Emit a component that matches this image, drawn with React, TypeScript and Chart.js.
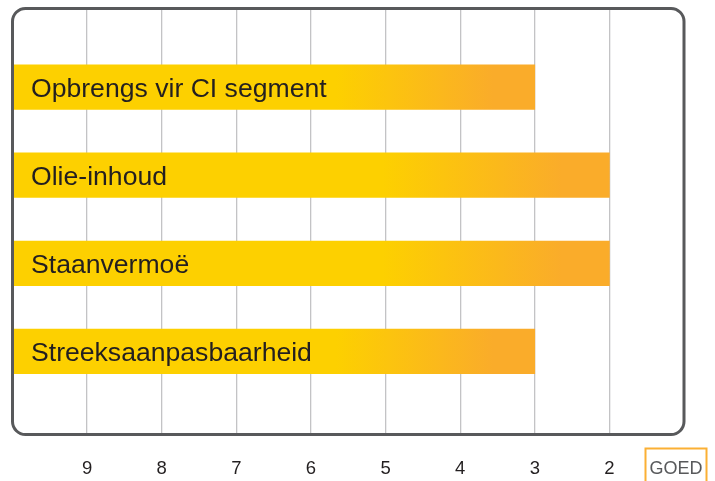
import React, { useEffect, useRef } from "react";
import { Chart, registerables } from "chart.js";

Chart.register(...registerables);

const categories = ["Opbrengs vir CI segment", "Olie-inhoud", "Staanvermoë", "Streeksaanpasbaarheid"];
const values = [3, 2, 2, 3];
const baseValue = 10;
const tickValues = [9, 8, 7, 6, 5, 4, 3, 2];
const goodLabel = "GOED";

const FONT = "'Liberation Sans', Arial, Helvetica, sans-serif";

export default function App() {
  const ref = useRef<HTMLCanvasElement | null>(null);

  useEffect(() => {
    if (!ref.current) return;

    const overlay = {
      id: "overlay",
      afterDatasetsDraw(chart: any) {
        const { ctx, chartArea, scales } = chart;
        ctx.save();
        ctx.fillStyle = "#231f20";
        ctx.font = `26.6px ${FONT}`;
        ctx.textAlign = "left";
        ctx.textBaseline = "alphabetic";
        categories.forEach((c, i) => {
          const y = scales.y.getPixelForValue(i + 1);
          ctx.fillText(c, chartArea.left + 18.5, y + 9.5);
        });
        const l = chartArea.left, t = chartArea.top, r = chartArea.right, b = chartArea.bottom;
        ctx.strokeStyle = "#58595b";
        ctx.lineWidth = 3;
        ctx.beginPath();
        ctx.roundRect(l, t, r - l, b - t, 13);
        ctx.stroke();
        ctx.fillStyle = "#231f20";
        ctx.font = `18.5px ${FONT}`;
        ctx.textAlign = "center";
        tickValues.forEach((v) => {
          ctx.fillText(String(v), scales.x.getPixelForValue(v), 473.5);
        });
        ctx.strokeStyle = "#fbb034";
        ctx.lineWidth = 2;
        ctx.strokeRect(645.5, 448.5, 61, 40);
        ctx.fillStyle = "#58595b";
        ctx.font = `18px ${FONT}`;
        ctx.textAlign = "center";
        ctx.fillText(goodLabel, 676, 474);
        ctx.restore();
      },
    };

    const chart = new Chart(ref.current, {
      type: "bar",
      data: {
        datasets: [
          {
            data: values.map((v, i) => ({ x: [baseValue, v], y: i + 1 })) as any,
            barThickness: 44.5,
            borderWidth: 0,
            borderSkipped: false,
            backgroundColor: (ctx: any) => {
              const chart = ctx.chart;
              const xs = chart.scales?.x;
              if (!xs || ctx.dataIndex === undefined) return "#fdd000";
              const x0 = xs.getPixelForValue(baseValue);
              const x1 = xs.getPixelForValue(values[ctx.dataIndex]);
              if (!isFinite(x0) || !isFinite(x1) || x1 === x0) return "#fdd000";
              const len = x1 - x0;
              const g = chart.ctx.createLinearGradient(x0 + len * 0.62, 0, x0 + len * 0.92, 0);
              g.addColorStop(0, "#fdd000");
              g.addColorStop(1, "#faac2a");
              return g;
            },
          },
        ],
      },
      options: {
        indexAxis: "y",
        animation: false,
        responsive: true,
        maintainAspectRatio: false,
        layout: { padding: { left: 12.5, right: 31, top: 8.5, bottom: 46.5 } },
        plugins: { legend: { display: false }, tooltip: { enabled: false } },
        scales: {
          x: {
            type: "linear",
            min: 1,
            max: 10,
            reverse: true,
            offset: false,
            border: { display: false },
            grid: {
              drawTicks: false,
              lineWidth: 1.3,
              color: (c: any) =>
                c.tick && (c.tick.value === 1 || c.tick.value === 10) ? "rgba(0,0,0,0)" : "#c3c3c5",
            },
            ticks: {
              display: false,
              stepSize: 1,
              autoSkip: false,
            },
          },
          y: {
            type: "linear",
            display: false,
            offset: false,
            min: 0.108,
            max: 4.943,
            reverse: true,
          },
        },
      },
      plugins: [overlay],
    });
    return () => chart.destroy();
  }, []);

  return (
    <div style={{ position: "fixed", left: 0, top: 0, width: 715, height: 481, background: "#fff" }}>
      <canvas ref={ref} />
    </div>
  );
}
